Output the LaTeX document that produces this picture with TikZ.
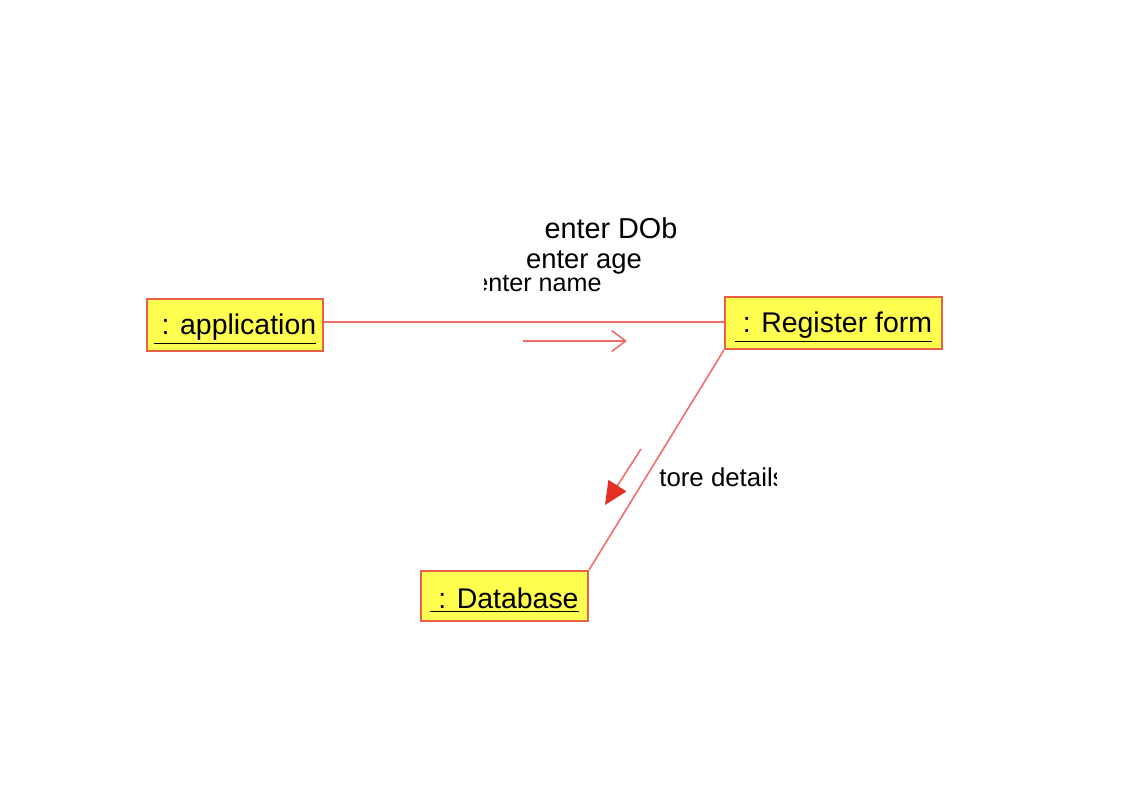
\documentclass[tikz,border=0pt]{standalone}
\usepackage{fontspec}
\setmainfont{Liberation Sans}
\usepackage{xcolor}
\usetikzlibrary{arrows.meta}
\definecolor{objfill}{RGB}{255,255,80}
\definecolor{objline}{RGB}{232,96,72}
\definecolor{linkline}{RGB}{240,110,105}
\definecolor{msgred}{RGB}{228,48,36}
\newcommand{\objname}[1]{\raisebox{-2.4pt}[\height][\depth]{\underline{~: #1}}}

\begin{document}
\begin{tikzpicture}[x=0.02cm,y=-0.02cm,
        obj/.style={draw=objline,fill=objfill,line width=1.3pt,minimum height=1.04cm,
          inner sep=0pt,font=\fontsize{16.2}{19}\selectfont},
        link/.style={draw=linkline,line width=0.9pt},
        msg/.style={font=\fontsize{#1}{18}\selectfont,inner sep=0pt}]
        \useasboundingbox (0,0) rectangle (1134,800);
        % Objects
        \node[obj,minimum width=3.52cm] (app) at (235,325) {\objname{application}};
        \node[obj,minimum width=4.34cm] (reg) at (833.5,323) {\objname{Register form}};
        \node[obj,minimum width=3.34cm,minimum height=1cm] (db) at (504.5,596) {\objname{Database}};
        % Links
        \draw[link] (app.east |- 0,322) -- (reg.west |- 0,322);
        \draw[link] (reg.south west) -- (db.north east);
        % Messages
        \node[msg=16.4] (dob) at (611,228) {enter DOb};
        \node[msg=15.6] (age) at (584,262) {enter age};
        \begin{scope}
          \clip (484,274) rectangle (620,296);
          \node[msg=14.3] (name) at (538,284) {enter name};
        \end{scope}
        \coordinate (m1a) at (523,341);
        \coordinate (m1b) at (627,341);
        \draw[link,-{Straight Barb[length=0.28cm,width=0.42cm,line width=0.9pt]}] (m1a) -- (m1b);
        \begin{scope}
          \clip (640,460) rectangle (776,495);
          \node[msg=14.7,anchor=west] (store) at (659,477) {tore details};
        \end{scope}
        \coordinate (m2a) at (641,449);
        \coordinate (m2b) at (605,505);
        \draw[link,-{Triangle[length=0.46cm,width=0.42cm,color=msgred]}] (m2a) -- (m2b);
    \end{tikzpicture}
\end{document}
